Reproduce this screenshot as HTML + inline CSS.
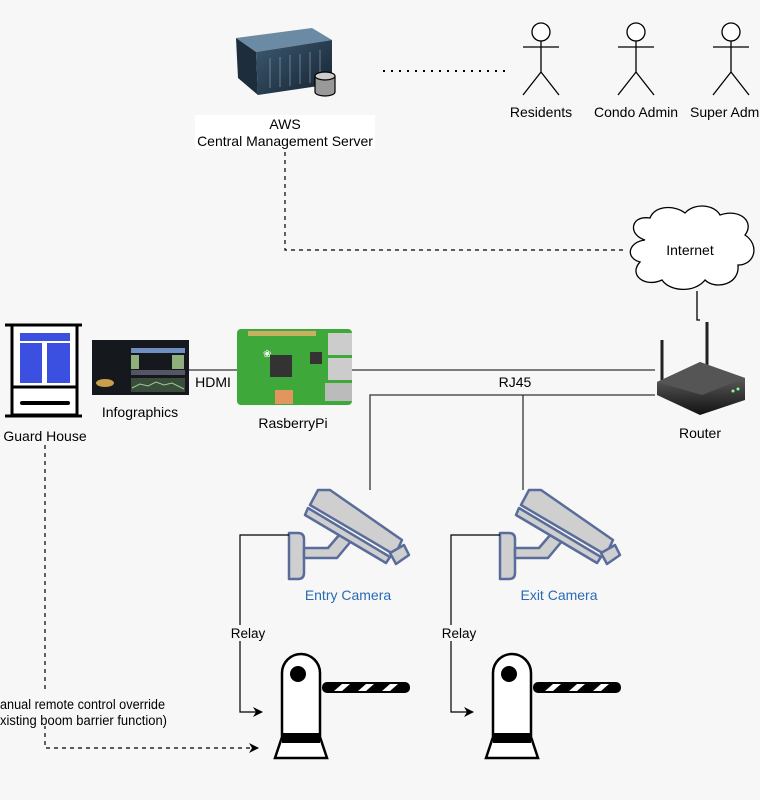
<!DOCTYPE html>
<html><head><meta charset="utf-8"><style>
html,body{margin:0;padding:0;background:#f7f7f7;}
svg{display:block;font-family:"Liberation Sans",sans-serif;}
</style></head><body>
<svg width="760" height="800" viewBox="0 0 760 800" xmlns="http://www.w3.org/2000/svg">
<defs>
<marker id="ar" markerWidth="10" markerHeight="10" refX="9" refY="5" orient="auto" markerUnits="userSpaceOnUse"><path d="M0,0 L10,5 L0,10 L3,5 Z" fill="#000"/></marker>
<linearGradient id="srv" x1="0" y1="0" x2="1" y2="1"><stop offset="0" stop-color="#3d5a72"/><stop offset="1" stop-color="#142230"/></linearGradient>
<linearGradient id="rtr" x1="0" y1="0" x2="0" y2="1"><stop offset="0" stop-color="#777"/><stop offset="1" stop-color="#111"/></linearGradient>
</defs>
<rect width="760" height="800" fill="#f7f7f7"/>

<!-- server -->
<polygon points="236,38 312,28 332,40 256,52" fill="#6b8aa3"/>
<polygon points="236,38 256,52 258,95 238,78" fill="#1d2d3c"/>
<polygon points="256,52 332,40 332,84 258,95" fill="url(#srv)"/>
<g stroke="#9ab" stroke-width="1" opacity="0.6">
<line x1="270" y1="58" x2="270" y2="88"/><line x1="280" y1="57" x2="280" y2="87"/><line x1="290" y1="55" x2="290" y2="86"/><line x1="300" y1="54" x2="300" y2="84"/><line x1="310" y1="52" x2="310" y2="83"/><line x1="320" y1="50" x2="320" y2="81"/>
</g>
<path d="M315,76 v16 a10,4 0 0 0 20,0 v-16" fill="#999" stroke="#000" stroke-width="1.2"/>
<ellipse cx="325" cy="76" rx="10" ry="4" fill="#ccc" stroke="#000" stroke-width="1.2"/>
<rect x="195" y="115" width="180" height="34" fill="#fff"/>
<text x="285" y="129" font-size="14" text-anchor="middle">AWS</text>
<text x="285" y="146" font-size="14" text-anchor="middle">Central Management Server</text>

<line x1="383" y1="71" x2="510" y2="71" stroke="#000" stroke-width="2" stroke-dasharray="2,6"/>

<!-- actors -->
<g fill="none" stroke="#000" stroke-width="1.3">
<g transform="translate(541,0)"><circle cx="0" cy="32" r="9" fill="#fff"/><line x1="0" y1="41" x2="0" y2="72"/><line x1="-18" y1="47" x2="18" y2="47"/><polyline points="-18,95 0,72 18,95"/></g>
<g transform="translate(636,0)"><circle cx="0" cy="32" r="9" fill="#fff"/><line x1="0" y1="41" x2="0" y2="72"/><line x1="-18" y1="47" x2="18" y2="47"/><polyline points="-18,95 0,72 18,95"/></g>
<g transform="translate(731,0)"><circle cx="0" cy="32" r="9" fill="#fff"/><line x1="0" y1="41" x2="0" y2="72"/><line x1="-18" y1="47" x2="18" y2="47"/><polyline points="-18,95 0,72 18,95"/></g>
</g>
<text x="541" y="117" font-size="14" text-anchor="middle">Residents</text>
<text x="636" y="117" font-size="14" text-anchor="middle">Condo Admin</text>
<text x="690" y="117" font-size="14">Super Admin</text>

<!-- dashed server->internet -->
<polyline points="285,152 285,250 625,250" fill="none" stroke="#000" stroke-width="1.2" stroke-dasharray="4,4"/>

<!-- cloud -->
<path d="M645,240 C628,235 630,215 650,218 C655,205 675,205 685,213 C695,202 715,205 720,215 C740,208 755,222 745,235 C760,245 755,265 738,265 C740,285 715,290 705,280 C695,293 670,292 662,280 C645,288 628,275 640,262 C625,258 628,242 645,240 Z" fill="#fff" stroke="#000" stroke-width="1.3"/>
<text x="690" y="255" font-size="14" text-anchor="middle">Internet</text>
<polyline points="697,291 697,320 700,320" fill="none" stroke="#000" stroke-width="1.3"/>

<!-- router -->
<line x1="662" y1="340" x2="662" y2="385" stroke="#222" stroke-width="3"/>
<line x1="707" y1="322" x2="707" y2="365" stroke="#222" stroke-width="3"/>
<polygon points="657,382 700,362 745,378 745,400 700,415 657,395" fill="url(#rtr)"/>
<polygon points="657,382 700,362 745,378 702,395" fill="#555"/>
<circle cx="733" cy="391" r="1.5" fill="#8f8"/><circle cx="738" cy="389" r="1.5" fill="#8f8"/>
<text x="700" y="438" font-size="14" text-anchor="middle">Router</text>

<!-- lines to router -->
<line x1="350" y1="370" x2="655" y2="370" stroke="#333" stroke-width="1.3"/>
<polyline points="370,490 370,395 655,395" fill="none" stroke="#333" stroke-width="1.3"/>
<line x1="523" y1="395" x2="523" y2="490" stroke="#333" stroke-width="1.3"/>
<rect x="497" y="374" width="36" height="16" fill="#f7f7f7"/>
<text x="515" y="387" font-size="14" text-anchor="middle">RJ45</text>

<!-- guard house -->
<g stroke="#000" stroke-width="3" fill="#fff">
<line x1="5" y1="325" x2="82" y2="325"/>
<rect x="12" y="325" width="65" height="90"/>
<line x1="12" y1="387" x2="77" y2="387"/>
<line x1="5" y1="416" x2="82" y2="416"/>
</g>
<rect x="20" y="333" width="50" height="8" fill="#3b4fe0"/>
<rect x="20" y="343" width="22" height="40" fill="#3b4fe0"/>
<rect x="47" y="343" width="23" height="40" fill="#3b4fe0"/>
<line x1="22" y1="403" x2="68" y2="403" stroke="#000" stroke-width="4" stroke-linecap="round"/>
<text x="45" y="441" font-size="14" text-anchor="middle">Guard House</text>

<!-- infographics -->
<rect x="92" y="340" width="97" height="55" fill="#15181c"/>
<rect x="131" y="348" width="54" height="5" fill="#6f8fc0"/>
<rect x="131" y="355" width="8" height="14" fill="#8fb07a"/><rect x="172" y="355" width="12" height="14" fill="#8fb07a"/>
<rect x="131" y="370" width="54" height="5" fill="#556"/>
<rect x="131" y="378" width="54" height="14" fill="#3a4d3a"/>
<polyline points="132,388 140,384 148,386 156,382 164,385 172,383 184,389" fill="none" stroke="#9c9" stroke-width="1"/>
<ellipse cx="105" cy="383" rx="9" ry="4" fill="#c9a04a"/>
<text x="140" y="417" font-size="14" text-anchor="middle">Infographics</text>

<line x1="189" y1="370" x2="237" y2="370" stroke="#333" stroke-width="1.3"/>
<rect x="194" y="373" width="38" height="16" fill="#f7f7f7"/>
<text x="213" y="387" font-size="14" text-anchor="middle">HDMI</text>

<!-- raspberry pi -->
<rect x="237" y="329" width="115" height="76" rx="4" fill="#3ea83a"/>
<rect x="248" y="331" width="68" height="5" fill="#c8b060"/>
<rect x="328" y="333" width="24" height="22" fill="#ccc"/><rect x="328" y="358" width="24" height="22" fill="#ccc"/>
<rect x="325" y="383" width="27" height="18" fill="#bbb"/>
<rect x="270" y="355" width="22" height="22" fill="#333"/>
<rect x="310" y="352" width="12" height="12" fill="#333"/>
<rect x="275" y="390" width="18" height="14" fill="#e2955c"/>
<text x="263" y="357" font-size="10" fill="#fff">❀</text>
<text x="293" y="428" font-size="14" text-anchor="middle">RasberryPi</text>

<!-- dashed guard -> barrier -->
<polyline points="45,445 45,748 258,748" fill="none" stroke="#000" stroke-width="1.2" stroke-dasharray="4,4" marker-end="url(#ar)"/>
<rect x="0" y="692" width="168" height="34" fill="#f7f7f7"/>
<text x="0" y="709" font-size="13.5" textLength="165" lengthAdjust="spacingAndGlyphs">anual remote control override</text>
<text x="0" y="725" font-size="13.5" textLength="167" lengthAdjust="spacingAndGlyphs">xisting boom barrier function)</text>

<!-- cameras + relays + barriers -->
<g id="set">
<g stroke="#5a6c9a" stroke-width="2.5" fill="#cfcfcf" stroke-linejoin="round">
<path d="M289,533 h9 q6,0 6,6 v34 q0,6 -6,6 h-9 Z"/>
<polygon points="304,548 328,548 340,534 352,540 337,558 304,558"/>
<polygon points="318,490 330,490 402,540 395,555 310,505"/>
<polygon points="308,508 390,557 386,563 305,515"/>
<polygon points="390,553 404,545 409,555 396,564"/>
</g>
<text x="348" y="600" font-size="14" fill="#2a6ab5" text-anchor="middle">Entry Camera</text>
<polyline points="289,535 240,535 240,712 262,712" fill="none" stroke="#000" stroke-width="1.2" marker-end="url(#ar)"/>
<rect x="229" y="625" width="38" height="16" fill="#f7f7f7"/>
<text x="248" y="638" font-size="13.5" text-anchor="middle">Relay</text>
<rect x="322" y="682" width="88" height="11" rx="5" fill="#000"/>
<g fill="#fff"><polygon points="334,691 342,684 350,684 342,691"/><polygon points="358,691 366,684 374,684 366,691"/><polygon points="382,691 390,684 398,684 390,691"/></g>
<path d="M275,758 L282,737 L282,673 a19,19 0 0 1 38,0 L320,737 L327,758 Z" fill="#fff" stroke="#000" stroke-width="2.5"/>
<rect x="282" y="733" width="38" height="10" fill="#000"/>
<circle cx="298" cy="674" r="8" fill="#000"/>
</g>
<use href="#set" transform="translate(211,0)"/>
<rect x="505" y="587" width="110" height="17" fill="#f7f7f7"/>
<text x="559" y="600" font-size="14" fill="#2a6ab5" text-anchor="middle">Exit Camera</text>
</svg>
</body></html>
